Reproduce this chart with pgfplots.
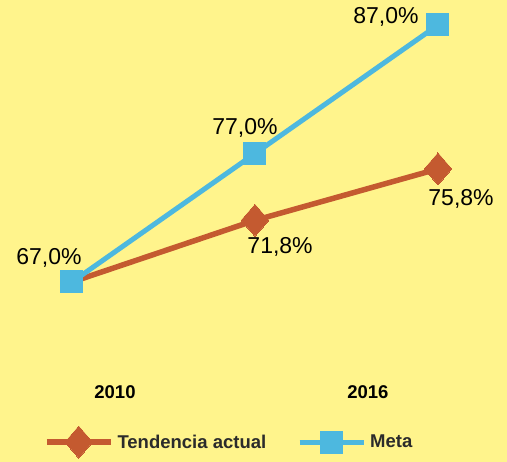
\documentclass[border=0pt]{standalone}
\usepackage{pgfplots}
\pgfplotsset{compat=1.18}
\usepackage{fontspec}
\setmainfont{Liberation Sans}
\definecolor{bgyellow}{HTML}{FFF48C}
\definecolor{rust}{HTML}{C45A30}
\definecolor{sky}{HTML}{4DB8DF}
\definecolor{ink}{HTML}{2B2B2B}
\begin{document}
\begin{tikzpicture}
\fill[bgyellow] (0,0) rectangle (507pt,462pt);
\begin{axis}[
  scale only axis, width=366pt, height=257pt,
  at={(72pt,180pt)}, anchor=south west,
  xmin=0, xmax=2, ymin=67, ymax=87,
  hide axis, clip=false,
  every node/.style={text=ink},
  legend image code/.code={\draw[#1, mark indices={2}] plot coordinates {(0pt,0pt) (32pt,0pt) (64pt,0pt)};},
  legend style={at={(axis description cs:-0.077,-0.623)}, anchor=west,
    draw=none, fill=none, inner sep=0pt, legend columns=2,
    font=\fontsize{18.5}{20}\selectfont\bfseries,
    nodes={inner sep=0pt, text=ink},
    /tikz/every odd column/.append style={column sep=4pt},
    /tikz/every even column/.append style={column sep=31pt}},
]
\addplot[rust, line width=5.5pt, mark=diamond*, mark size=16pt, mark indices={2,3},
  mark options={xscale=1.15, line width=0pt}] coordinates {(0,67.0) (1,71.8) (2,75.8)};
\addplot[sky, line width=5pt, mark=square*, mark size=11pt,
  mark options={line width=0pt}] coordinates {(0,67.0) (1,77.0) (2,87.0)};
\legend{Tendencia actual, Meta}
\begin{scope}[font=\fontsize{23}{26}\selectfont]
\node at (axis cs:-0.126,68.87) {67,0\%};
\node at (axis cs:0.945,78.98) {77,0\%};
\node at (axis cs:1.716,87.62) {87,0\%};
\node at (axis cs:1.137,69.72) {71,8\%};
\node at (axis cs:2.126,73.46) {75,8\%};
\end{scope}
\begin{scope}[font=\fontsize{18.5}{20}\selectfont\bfseries]
\node at (axis cs:0.235,58.44) {2010};
\node at (axis cs:1.617,58.44) {2016};
\end{scope}
\end{axis}
\pgfresetboundingbox
\useasboundingbox (0,0) rectangle (507pt,462pt);
\end{tikzpicture}
\end{document}
